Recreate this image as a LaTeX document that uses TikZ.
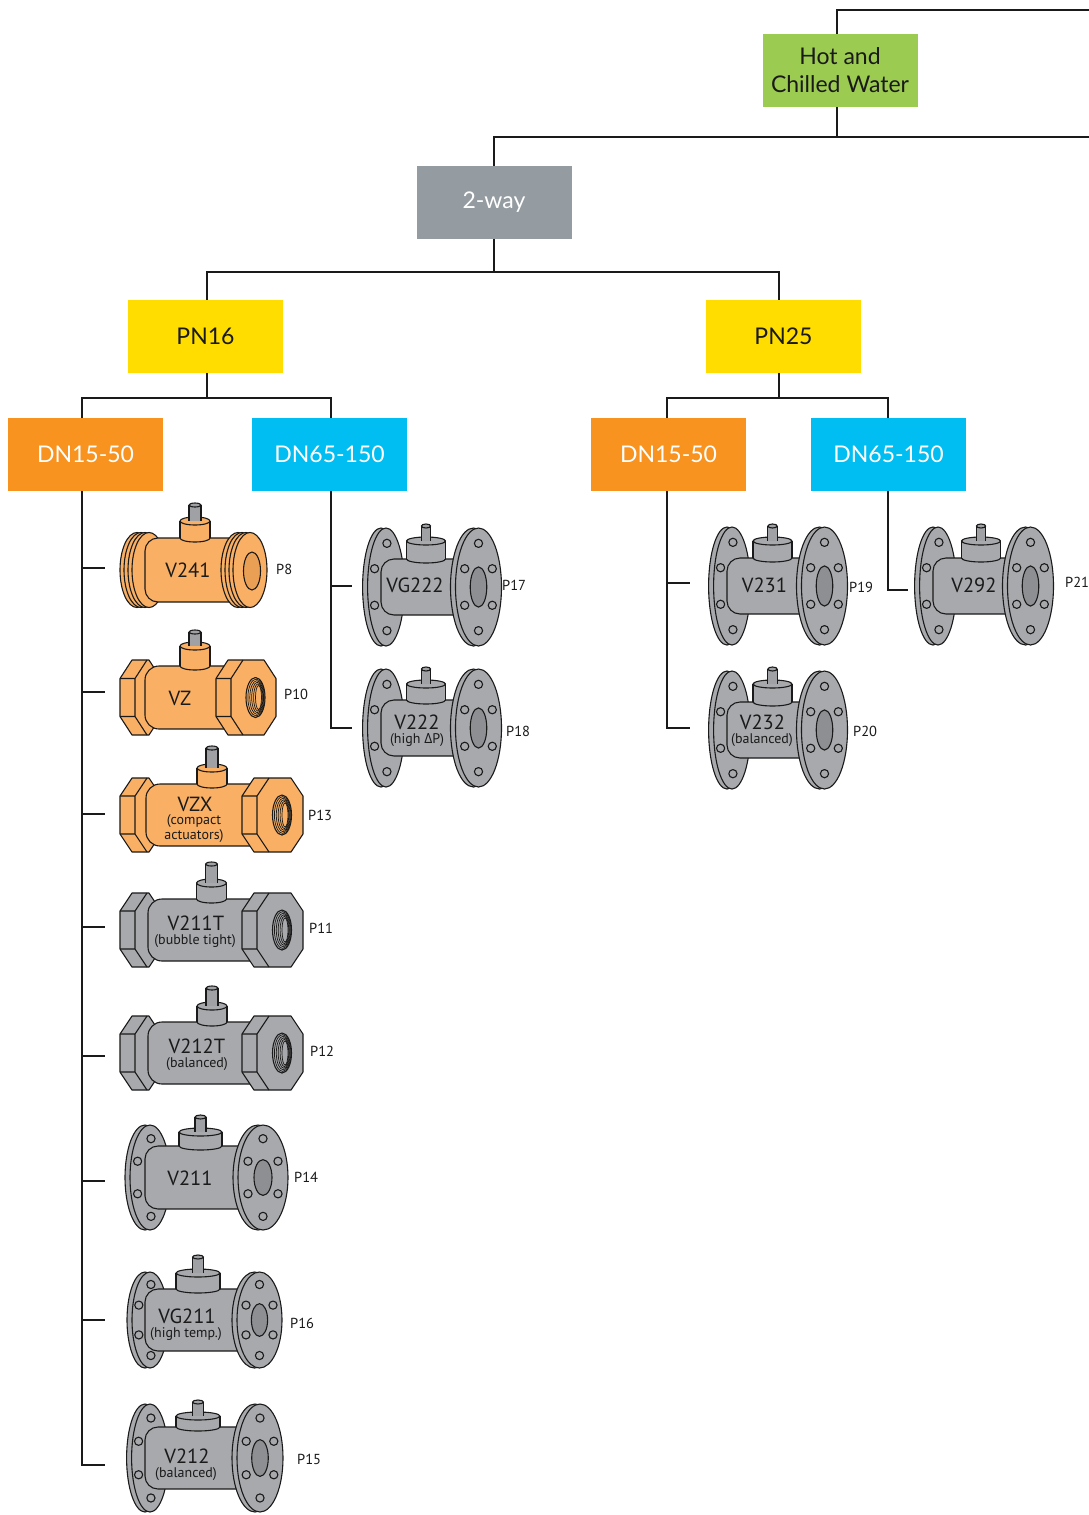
\documentclass[tikz,border=0pt]{standalone}
\usepackage{fontspec}
\setmainfont{PT Sans}
\newfontfamily\hdrfont{Lato}
\newfontfamily\grkfont{Open Sans}
\definecolor{cGreen}{HTML}{9BCB50}
\definecolor{cTwo}{HTML}{959CA1}
\definecolor{cYel}{HTML}{FFDD00}
\definecolor{cOra}{HTML}{F7931E}
\definecolor{cCya}{HTML}{00BDF2}
\definecolor{vGray}{HTML}{A7A9AC}
\definecolor{vGrayD}{HTML}{8D8F92}
\definecolor{vOra}{HTML}{F9B064}
\definecolor{vOraD}{HTML}{E9A055}
\definecolor{vStem}{HTML}{9FA1A4}
\definecolor{ink}{HTML}{1A1A1A}

\tikzset{
  conn/.style={line width=2pt, draw=ink},
  vl/.style={line width=1.1pt, draw=ink, line join=round},
  hbox/.style={minimum width=155pt, minimum height=73pt, inner sep=0pt, font=\hdrfont\fontsize{23}{28}\selectfont, align=center},
  vlab/.style={inner sep=0pt, font=\fontsize{20.5}{22}\selectfont, text=ink},
  vsub/.style={inner sep=0pt, font=\fontsize{14}{15}\selectfont, text=ink, align=center},
  plab/.style={inner sep=0pt, anchor=west, font=\fontsize{14.5}{15}\selectfont, text=ink},
}

\newcommand\Bonnet[4]{%
 \draw[vl, fill=\vc] (#1,#2) ellipse [x radius=\bw, y radius=4];
 \fill[\vc] (#1-\bw,#3) rectangle (#1+\bw,#2);
 \draw[vl] (#1-\bw,#3) -- (#1-\bw,#2) (#1+\bw,#3) -- (#1+\bw,#2);
 \draw[vl, fill=\vc] (#1,#3) ellipse [x radius=\bw, y radius=4];
 \fill[vStem] (#1-\sw,#4) rectangle (#1+\sw,#3);
 \draw[vl] (#1-\sw,#4) -- (#1-\sw,#3) (#1+\sw,#4) -- (#1+\sw,#3);
 \draw[vl, fill=vStem] (#1,#4) ellipse [x radius=\sw, y radius=2];
}

% #1 xL  #2 xR  #3 cy  #4 ry  #5 rxR  #6 body half  #7 bonnet cx  #8 bonnet top  #9 stem top
\newcommand\FValve[9]{%
 \pgfmathsetmacro\vRxl{0.8*#5}%
 \pgfmathsetmacro\vBrx{0.36*#5}%
 \pgfmathsetmacro\vBry{0.34*#4}%
 \pgfmathsetmacro\vBt{#3-#6}%
 \pgfmathsetmacro\vBb{#3+#6}%
 \draw[vl, fill=\vc] (#1-5,#3) ellipse [x radius=\vRxl, y radius=#4];
 \draw[vl, fill=\vc] (#1,#3) ellipse [x radius=\vRxl, y radius=#4];
 \foreach \hx/\hy in {0.05/-0.74,-0.62/-0.31,-0.62/0.31,0.05/0.74}{\draw[vl, fill=\vc] ({#1+\hx*\vRxl},{#3+\hy*#4}) circle [radius=4.1];}
 \draw[vl, fill=\vc, rounded corners=13pt] (#2,\vBt) -- (#1-5,\vBt) -- (#1-5,\vBb) -- (#2,\vBb);
 \Bonnet{#7}{\vBt}{#8}{#9}
 \draw[vl, fill=\vc] (#2-5,#3) ellipse [x radius=#5, y radius=#4];
 \draw[vl, fill=\vc] (#2,#3) ellipse [x radius=#5, y radius=#4];
 \foreach \hx/\hy in {0/-0.74,-0.6/-0.31,0.6/-0.31,-0.6/0.31,0.6/0.31,0/0.74}{\draw[vl, fill=\vc] ({#2+\hx*#5},{#3+\hy*#4}) circle [radius=4.1];}
 \draw[vl, fill=\bc] (#2,#3) ellipse [x radius=\vBrx, y radius=\vBry];
}

% hex nut: #1 strip left x, #2 face width, #3 cy, #4 H
\newcommand\Nut[4]{%
 \draw[vl, fill=\vc] (#1,#3-19) -- (#1+12,#3-#4) -- (#1+15+#2-12,#3-#4) -- (#1+15+#2,#3-19) -- (#1+15+#2,#3+19) -- (#1+15+#2-12,#3+#4) -- (#1+12,#3+#4) -- (#1,#3+19) -- cycle;
 \draw[vl] (#1,#3-19) -- (#1+15,#3-19) -- (#1+27,#3-#4) (#1,#3+19) -- (#1+15,#3+19) -- (#1+27,#3+#4) (#1+15,#3-19) -- (#1+15,#3+19);
}
\newcommand\Threads[2]{%
 \draw[vl, fill=\vc] (#1,#2) ellipse [x radius=9.5, y radius=20];
 \foreach \k in {1,...,5}{\draw[line width=0.7pt, draw=ink] ({#1+0.6*\k},#2) ellipse [x radius={9.5-1.3*\k}, y radius={20-1.6*\k}];}
}
% #1 xl  #2 right strip x  #3 face w  #4 cy  #5 H  #6 body left  #7 bonnet cx  #8 bonnet top  #9 stem top
\newcommand\TValve[9]{%
 \pgfmathsetmacro\vBt{#4-#5+6}%
 \pgfmathsetmacro\vBb{#4+#5-6}%
 \Nut{#1}{26}{#4}{#5}
 \draw[vl, fill=\vc, rounded corners=14pt] (#2+10,\vBt) -- (#6,\vBt) -- (#6,\vBb) -- (#2+10,\vBb);
 \Bonnet{#7}{\vBt}{#8}{#9}
 \Nut{#2}{#3}{#4}{#5}
 \pgfmathsetmacro\vTx{#2+15+#3/2+2}%
 \Threads{\vTx}{#4}
}

\begin{document}
\begin{tikzpicture}[x=1pt,y=-1pt]
\useasboundingbox (0,0) rectangle (1089,1515);
\fill[white] (0,0) rectangle (1089,1515);
\clip (0,0) rectangle (1089,1515);

% ---------- header boxes ----------
\node[hbox, fill=cGreen, text=ink] (hcw) at (840,70.5) {Hot and\\Chilled Water};
\node[hbox, fill=cTwo, text=white] (twoway) at (494,202.5) {2-way};
\node[hbox, fill=cYel, text=ink] (pn16) at (205.5,336.5) {PN16};
\node[hbox, fill=cYel, text=ink] (pn25) at (783.5,336.5) {PN25};
\node[hbox, fill=cOra, text=white] (dnA) at (85.5,454.5) {DN15-50};
\node[hbox, fill=cCya, text=white] (dnB) at (329.5,454.5) {DN65-150};
\node[hbox, fill=cOra, text=white] (dnC) at (668.5,454.5) {DN15-50};
\node[hbox, fill=cCya, text=white] (dnD) at (888.5,454.5) {DN65-150};

% anchors on the connector lines
\coordinate (hcwN) at ([xshift=-3pt]hcw.north);
\coordinate (hcwS) at ([xshift=-3pt]hcw.south);
\coordinate (pn16N) at ([xshift=1.5pt]pn16.north);
\coordinate (pn16S) at ([xshift=1.5pt]pn16.south);
\coordinate (pn25N) at ([xshift=-4.5pt]pn25.north);
\coordinate (pn25S) at ([xshift=-4.5pt]pn25.south);
\coordinate (dnAN) at ([xshift=-3.5pt]dnA.north);
\coordinate (dnAS) at ([xshift=-3.5pt]dnA.south);
\coordinate (dnBN) at ([xshift=1.5pt]dnB.north);
\coordinate (dnBS) at ([xshift=1.5pt]dnB.south);
\coordinate (dnCN) at ([xshift=-1.5pt]dnC.north);
\coordinate (dnCS) at ([xshift=-1.5pt]dnC.south);
\coordinate (dnDN) at ([xshift=-0.5pt]dnD.north);
\coordinate (dnDS) at ([xshift=-0.5pt]dnD.south);
\coordinate (topR) at (1100,10);
\coordinate (midR) at (1100,137);

% valve connection points
\coordinate (tA1) at (105,568);
\coordinate (tA2) at (105,692);
\coordinate (tA3) at (105,814);
\coordinate (tA4) at (105,927);
\coordinate (tA5) at (105,1056);
\coordinate (tA6) at (105,1181);
\coordinate (tA7) at (105,1320);
\coordinate (tA8) at (105,1465);
\coordinate (tB1) at (352,586);
\coordinate (tB2) at (352,728);
\coordinate (tC1) at (690,583);
\coordinate (tC2) at (690,728);
\coordinate (tD1) at (908,590);

% ---------- connectors ----------
\draw[conn] (hcwN) |- (topR);
\draw[conn] (hcwS) -- (hcwS |- midR);
\draw[conn] (twoway.north) |- (midR);
\draw[conn] (twoway.south) -- ++(0,33) -| (pn16N);
\draw[conn] (twoway.south) -- ++(0,33) -| (pn25N);
\draw[conn] (pn16S) -- ++(0,25) -| (dnAN);
\draw[conn] (pn16S) -- ++(0,25) -| (dnBN);
\draw[conn] (pn25S) -- ++(0,25) -| (dnCN);
\draw[conn] (pn25S) -- ++(0,25) -| (dnDN);
\draw[conn] (dnAS) |- (tA8);
\foreach \t in {tA1,tA2,tA3,tA4,tA5,tA6,tA7}{\draw[conn] (dnAS |- \t) -- (\t);}
\draw[conn] (dnBS) |- (tB2);
\draw[conn] (dnBS |- tB1) -- (tB1);
\draw[conn] (dnCS) |- (tC2);
\draw[conn] (dnCS |- tC1) -- (tC1);
\draw[conn] (dnDS) |- (tD1);

% ---------- V241 (grooved ends) ----------
\def\vc{vOra}\def\bc{vOraD}\def\bw{15}\def\sw{6}
\foreach \i in {0,1,2,3}{\draw[vl, fill=\vc] ({137+4*\i},570) ellipse [x radius=17, y radius=37.5];}
\draw[vl, fill=\vc, rounded corners=13pt] (240,538) -- (145,538) -- (145,602) -- (240,602);
\Bonnet{195}{538}{521}{505}
\foreach \i in {0,1,2,3}{\draw[vl, fill=\vc] ({238+4*\i},570) ellipse [x radius=17, y radius=37.5];}
\draw[vl, fill=vOraD] (252,571) ellipse [x radius=8.5, y radius=19];

% ---------- threaded valves ----------
\TValve{120}{216}{45}{697.5}{37.5}{145}{195}{646}{632}
\TValve{120}{242}{46}{815}{37}{146}{212}{768}{748}
\def\vc{vGray}\def\bc{vGrayD}
\TValve{120}{242}{46}{930}{37}{148}{211.5}{883}{864}
\TValve{120}{242}{46}{1053}{37}{148}{212}{1006}{988}

% ---------- flanged valves ----------
\def\bw{21.5}\def\sw{5.5}
\FValve{150}{263}{1177.5}{52.5}{25}{31.5}{200.5}{1132}{1117}
\def\bw{22}
\FValve{150}{259.5}{1320}{48}{22.5}{31}{198}{1273}{1257}
\FValve{150}{260}{1458}{54}{23}{31}{198}{1416}{1402}
\def\bw{19.5}\def\sw{4.7}
\FValve{386}{478.5}{587}{59}{23}{28}{426}{541}{526}
\FValve{386}{478.5}{728}{59}{23}{28}{426}{684}{669}
\FValve{732}{824.5}{586}{59}{23}{28}{772.5}{541}{526}
\FValve{732}{824.5}{730}{59}{23}{28}{772.5}{684}{669}
\FValve{938}{1030.5}{586}{59}{23}{28}{981}{541}{526}

% ---------- valve labels ----------
\node[vlab] (lV241) at (188,570) {V241};
\node[vlab] (lVZ) at (180,698) {VZ};
\node[vlab] (lVZX) at (195,804) {VZX};
\node[vsub] (sVZX) at (194,829) {(compact\\actuators)};
\node[vlab] (lV211T) at (196,923) {V211T};
\node[vsub] (sV211T) at (195,941) {(bubble tight)};
\node[vlab] (lV212T) at (197,1046) {V212T};
\node[vsub] (sV212T) at (197,1064) {(balanced)};
\node[vlab] (lV211) at (190,1178) {V211};
\node[vlab] (lVG211) at (187,1316) {VG211};
\node[vsub] (sVG211) at (186,1334) {(high temp.)};
\node[vlab] (lV212) at (187,1456) {V212};
\node[vsub] (sV212) at (186,1474) {(balanced)};
\node[vlab] (lVG222) at (415,585) {VG222};
\node[vlab] (lV222) at (417,722) {V222};
\node[vsub] (sV222) at (417,740) {(high {\grkfont Δ}P)};
\node[vlab] (lV231) at (764.5,585) {V231};
\node[vlab] (lV232) at (762.5,722) {V232};
\node[vsub] (sV232) at (762,740) {(balanced)};
\node[vlab] (lV292) at (974,585) {V292};

% ---------- page references ----------
\node[plab] (p8) at (276,569.5) {P8};
\node[plab] (p10) at (284,694) {P10};
\node[plab] (p13) at (308,815) {P13};
\node[plab] (p11) at (309,928) {P11};
\node[plab] (p12) at (310,1051) {P12};
\node[plab] (p14) at (294,1177) {P14};
\node[plab] (p16) at (290,1323) {P16};
\node[plab] (p15) at (297,1459) {P15};
\node[plab] (p17) at (502,585) {P17};
\node[plab] (p18) at (506,731) {P18};
\node[plab] (p19) at (849,587) {P19};
\node[plab] (p20) at (853,731) {P20};
\node[plab] (p21) at (1065,582) {P21};
\end{tikzpicture}
\end{document}
